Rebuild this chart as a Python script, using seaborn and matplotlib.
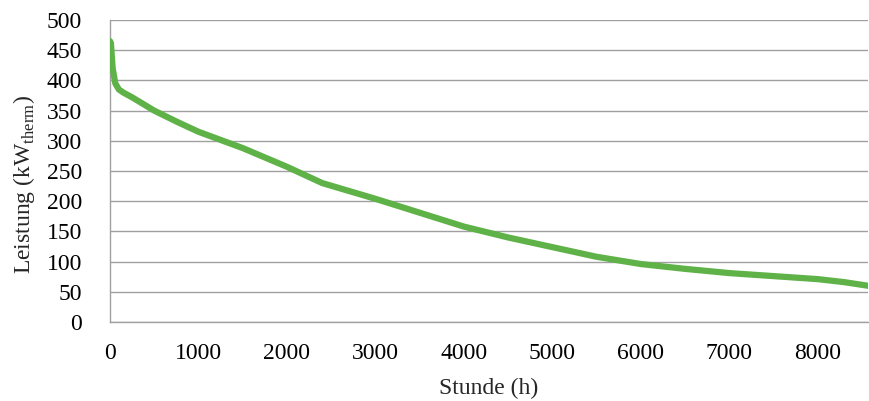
import matplotlib
matplotlib.use("Agg")
import matplotlib.pyplot as plt
import seaborn as sns
import pandas as pd

hours = [0, 10, 30, 60, 100, 150, 250, 500, 750, 1000, 1500, 2000, 2400, 3000,
         3500, 4000, 4500, 5000, 5500, 6000, 6500, 7000, 7500, 8000, 8300, 8570]
power = [465, 462, 420, 395, 385, 380, 372, 350, 332, 315, 288, 257, 230, 204,
         181, 158, 140, 124, 108, 96, 88, 81, 76, 71, 66, 60]
x_ticks = [0, 1000, 2000, 3000, 4000, 5000, 6000, 7000, 8000]
y_ticks = [0, 50, 100, 150, 200, 250, 300, 350, 400, 450, 500]

sns.set_theme(style="white")
plt.rcParams['font.family'] = ['Liberation Serif', 'DejaVu Serif']
plt.rcParams['mathtext.fontset'] = 'custom'
plt.rcParams['mathtext.rm'] = 'Liberation Serif'

df = pd.DataFrame({"Stunde": hours, "Leistung": power})

fig = plt.figure(figsize=(8.69, 4.01), dpi=100)
ax = fig.add_axes([0.1266, 0.197, 0.8724, 0.753])
sns.lineplot(data=df, x="Stunde", y="Leistung", ax=ax, color="#5FB247",
             linewidth=4.5, zorder=3)

ax.set_xlim(0, 8570)
ax.set_ylim(0, 500)
ax.set_xticks(x_ticks)
ax.set_yticks(y_ticks)
ax.yaxis.grid(True, color="#A0A0A0", linewidth=1.0)
ax.xaxis.grid(False)
for s in ["top", "right"]:
    ax.spines[s].set_visible(False)
for s in ["left", "bottom"]:
    ax.spines[s].set_color("#A0A0A0")
    ax.spines[s].set_linewidth(1.0)
ax.tick_params(axis="both", which="major", direction="out", length=5, width=1.0,
               color="#A0A0A0", labelsize=17, labelcolor="black")
ax.tick_params(axis="x", pad=10)
ax.tick_params(axis="y", pad=15)
ax.set_xlabel("Stunde (h)", fontsize=17, labelpad=10)
ax.set_ylabel(r"Leistung (kW$_{\mathrm{therm}}$)", fontsize=17)
ax.yaxis.set_label_coords(-0.096, 0.455)

fig.savefig("out.png", dpi=100)
